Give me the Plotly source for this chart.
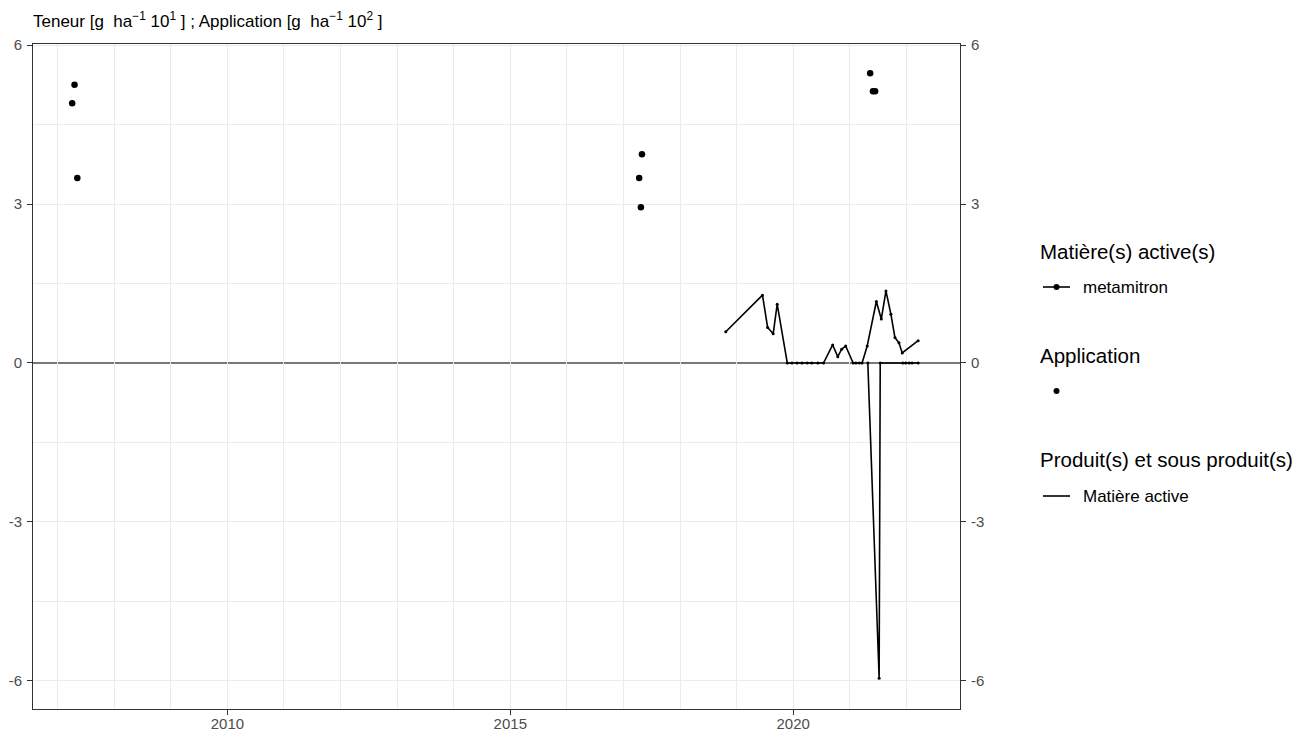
import plotly.graph_objects as go

# ---- data ----
line_dates = ["2018-10-23", "2019-06-17", "2019-07-20", "2019-08-25", "2019-09-20",
              "2019-11-24", "2019-12-24", "2020-01-26", "2020-02-27", "2020-04-01",
              "2020-04-30", "2020-06-09", "2020-07-15", "2020-09-12", "2020-10-15",
              "2020-11-09", "2020-12-05", "2021-01-22", "2021-02-09", "2021-03-03",
              "2021-03-21", "2021-04-23", "2021-06-21", "2021-07-23", "2021-08-22",
              "2021-09-23", "2021-10-19", "2021-11-14", "2021-12-05", "2022-03-18"]
line_values = [0.59, 1.28, 0.67, 0.55, 1.11,
               0.0, 0.0, 0.0, 0.0, 0.0,
               0.0, 0.0, 0.0, 0.34, 0.12,
               0.26, 0.32, 0.0, 0.0, 0.0,
               0.0, 0.32, 1.16, 0.83, 1.36,
               0.92, 0.48, 0.38, 0.19, 0.42]

spike_dates = ["2021-04-27", "2021-07-09", "2021-07-16", "2021-12-09",
               "2021-12-27", "2022-01-19", "2022-02-06", "2022-03-18"]
spike_values = [0.0, -5.95, 0.0, 0.0, 0.0, 0.0, 0.0, 0.0]

app_dates = ["2007-04-20", "2007-04-05", "2007-05-08",
             "2017-04-30", "2017-04-12", "2017-04-23",
             "2021-05-12", "2021-05-30", "2021-06-13"]
app_values = [5.25, 4.90, 3.49,
              3.94, 3.49, 2.94,
              5.47, 5.13, 5.13]

y_ticks = [6, 3, 0, -3, -6]
y_tick_labels = ["6", "3", "0", "-3", "-6"]
y_grid = [6, 4.5, 3, 1.5, -1.5, -3, -4.5, -6]
x_tick_dates = ["2010-01-01", "2015-01-01", "2020-01-01"]
x_tick_labels = ["2010", "2015", "2020"]

legend_titles = ["Matière(s) active(s)", "Application", "Produit(s) et sous produit(s)"]
legend_items = ["metamitron", "", "Matière active"]

FONT = "Liberation Sans, Arial, sans-serif"
TICKC = "#4d4d4d"

# page offset (body margin) and target plot area in screen pixels
OFF = 8
W, H = 1312 - OFF, 740 - OFF
L, R, T, B = 33 - OFF, 960 - OFF, 44 - OFF, 709 - OFF


def px(xs):
    return (xs - OFF - L) / (R - L)


def py(ys):
    return (B - (ys - OFF)) / (B - T)


fig = go.Figure()

fig.add_trace(go.Scatter(
    x=line_dates, y=line_values, mode="lines+markers",
    line=dict(color="black", width=1.6), marker=dict(color="black", size=3),
    name="metamitron", showlegend=False,
))
fig.add_trace(go.Scatter(
    x=spike_dates, y=spike_values, mode="lines+markers",
    line=dict(color="black", width=1.6), marker=dict(color="black", size=3),
    showlegend=False,
))
fig.add_trace(go.Scatter(
    x=app_dates, y=app_values, mode="markers",
    marker=dict(color="black", size=6.5),
    name="Application", showlegend=False,
))
# secondary axis carrier
fig.add_trace(go.Scatter(x=[None], y=[None], yaxis="y2", showlegend=False, hoverinfo="skip"))

shapes = [dict(type="line", xref="paper", yref="y", x0=0, x1=1, y0=0, y1=0,
               line=dict(color="#4d4d4d", width=1.4), layer="below")]

# ---- manual legend ----
title_y = [251, 355, 459]
item_y = [287, 391, 496]
ann = []
for t, ty in zip(legend_titles, title_y):
    ann.append(dict(text=t, x=px(1038), y=py(ty), xref="paper", yref="paper",
                    xanchor="left", yanchor="middle", showarrow=False,
                    font=dict(size=20.5, color="black", family=FONT)))
for it, iy in zip(legend_items, item_y):
    if it:
        ann.append(dict(text=it, x=px(1081), y=py(iy), xref="paper", yref="paper",
                        xanchor="left", yanchor="middle", showarrow=False,
                        font=dict(size=17, color="black", family=FONT)))
shapes += [
    dict(type="line", xref="paper", yref="paper", x0=px(1043), x1=px(1070),
         y0=py(item_y[0]), y1=py(item_y[0]), line=dict(color="black", width=1.6)),
    dict(type="circle", xref="paper", yref="paper", x0=px(1053.5), x1=px(1059.5),
         y0=py(item_y[0] - 3), y1=py(item_y[0] + 3), fillcolor="black", line=dict(width=0)),
    dict(type="circle", xref="paper", yref="paper", x0=px(1053.5), x1=px(1059.5),
         y0=py(item_y[1] - 3), y1=py(item_y[1] + 3), fillcolor="black", line=dict(width=0)),
    dict(type="line", xref="paper", yref="paper", x0=px(1043), x1=px(1070),
         y0=py(item_y[2]), y1=py(item_y[2]), line=dict(color="black", width=1.6)),
]

# title
ann.append(dict(text="Teneur [g  ha<sup>−1</sup> 10<sup>1</sup> ] ; Application [g  ha<sup>−1</sup> 10<sup>2</sup> ]",
                x=px(31), y=py(20), xref="paper", yref="paper", xanchor="left", yanchor="middle",
                showarrow=False, font=dict(size=17, color="black", family=FONT)))

yr = [-6.53, 6.02]
tick_common = dict(ticks="outside", ticklen=5, tickcolor="#333333",
                   tickfont=dict(size=15, color=TICKC))
fig.update_layout(
    width=W, height=H,
    margin=dict(l=L, r=W - R, t=T, b=H - B, autoexpand=False),
    paper_bgcolor="white", plot_bgcolor="white",
    font=dict(family=FONT, size=14, color=TICKC),
    showlegend=False,
    annotations=ann,
    shapes=shapes,
    xaxis=dict(
        type="date", range=["2006-07-26", "2022-12-13"], automargin=False,
        tickvals=x_tick_dates, ticktext=x_tick_labels,
        showgrid=True, gridcolor="#ebebeb", gridwidth=1,
        minor=dict(dtick="M12", tick0="2007-01-01", showgrid=True, gridcolor="#ebebeb", gridwidth=0.6),
        showline=True, linecolor="#333333", linewidth=1, mirror=True,
        zeroline=False, ticklabelstandoff=-4, **tick_common,
    ),
    yaxis=dict(
        range=yr, tickvals=y_ticks, ticktext=y_tick_labels, automargin=False,
        showgrid=False,
        minor=dict(tickvals=y_grid, showgrid=True, gridcolor="#ebebeb", gridwidth=0.8),
        showline=True, linecolor="#333333", linewidth=1, mirror=True,
        zeroline=False, ticklabelstandoff=2, **tick_common,
    ),
    yaxis2=dict(
        range=yr, tickvals=y_ticks, ticktext=y_tick_labels, overlaying="y", side="right",
        showgrid=False, zeroline=False, automargin=False, ticklabelstandoff=2, **tick_common,
    ),
)

fig.write_html("out.html")
